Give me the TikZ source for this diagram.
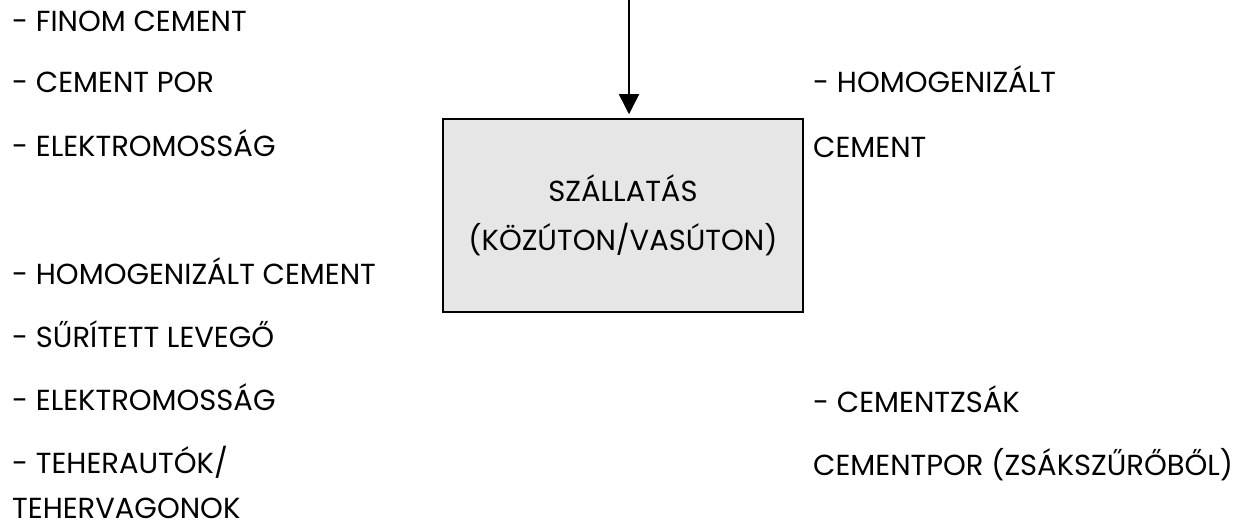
\documentclass[tikz,border=0pt]{standalone}
\usepackage{fontspec}
\setmainfont{Poppins}
\usetikzlibrary{arrows.meta,positioning}
\definecolor{boxgray}{HTML}{E6E6E6}

\begin{document}
\begin{tikzpicture}[x=1pt,y=-1pt,
  item/.style={anchor=base west,inner sep=0pt,font=\fontsize{29}{34}\selectfont},
  process/.style={draw=black,line width=1.5pt,fill=boxgray,minimum width=360pt,
    minimum height=193pt,align=center,inner sep=0pt,font=\fontsize{29}{49}\selectfont},
  feed/.style={-{Triangle[width=20pt,length=20pt]},line width=1.5pt,shorten >=4pt}]
\useasboundingbox (0,0) rectangle (1242,526);
% central step
\node[process] (box) at (623,215.5) {SZÁLLATÁS\\(KÖZÚTON/VASÚTON)};
\coordinate (src) at (629,0);
\draw[feed] (src) -- (src |- box.north);
% inputs
\node[item] (in1) at (12,32) {- FINOM CEMENT};
\node[item] (in2) at (12,93) {- CEMENT POR};
\node[item] (in3) at (12,157) {- ELEKTROMOSSÁG};
\node[item] (in4) at (12,285) {- HOMOGENIZÁLT CEMENT};
\node[item] (in5) at (12,348) {- SŰRÍTETT LEVEGŐ};
\node[item] (in6) at (12,410) {- ELEKTROMOSSÁG};
\node[item] (in7) at (12,473) {- TEHERAUTÓK/};
\node[item] (in8) at (12,518) {TEHERVAGONOK};
% outputs
\node[item] (out1) at (813,93) {- HOMOGENIZÁLT};
\node[item] (out2) at (813,158) {CEMENT};
\node[item] (out3) at (813,412) {- CEMENTZSÁK};
\node[item] (out4) at (813,475) {CEMENTPOR (ZSÁKSZŰRŐBŐL)};
\end{tikzpicture}
\end{document}
